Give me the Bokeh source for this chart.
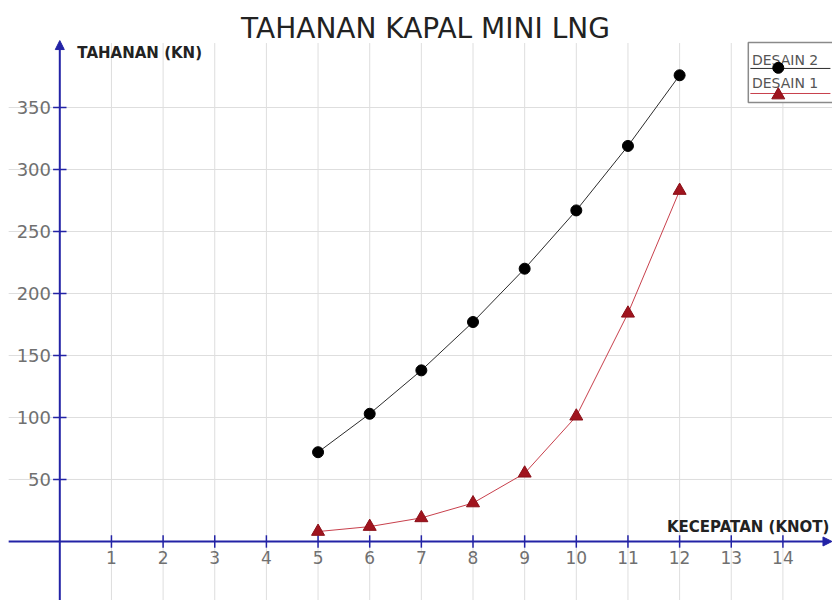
from bokeh.plotting import figure
from bokeh.models import Range1d, Arrow, NormalHead, Label
from bokeh.core.properties import value
from bokeh.embed import file_html
from bokeh.resources import INLINE

# ---- data ----
speed = [5, 6, 7, 8, 9, 10, 11, 12]
desain2 = [72, 103, 138, 177, 220, 267, 319, 376]
desain1 = [8, 12, 19, 31, 55, 101, 184, 283]
x_ticks = [1, 2, 3, 4, 5, 6, 7, 8, 9, 10, 11, 12, 13, 14]
x_tick_labels = [str(t) for t in x_ticks]
y_ticks = [50, 100, 150, 200, 250, 300, 350]
y_tick_labels = [str(t) for t in y_ticks]
title_text = "TAHANAN KAPAL MINI LNG"
x_label = "KECEPATAN (KNOT)"
y_label = "TAHANAN (KN)"
series_names = ["DESAIN 2", "DESAIN 1"]

# ---- styles ----
AXIS = "#2323a6"
GRID = "#dedede"
TICKLAB = "#707070"
FONT = "DejaVu Sans"

XMIN, XMAX = -1.148, 14.96
YMIN, YMAX = -47.6, 436.3

p = figure(width=832, height=600, output_backend="svg", toolbar_location=None,
           x_range=Range1d(XMIN, XMAX), y_range=Range1d(YMIN, YMAX),
           x_axis_location=None, y_axis_location=None,
           min_border=0, min_border_left=0, min_border_right=0,
           min_border_top=0, min_border_bottom=0, outline_line_color=None)
p.grid.visible = False
p.background_fill_color = "white"

# grid
p.segment(x0=x_ticks, y0=[YMIN] * len(x_ticks), x1=x_ticks, y1=[402] * len(x_ticks),
          line_color=GRID, line_width=1)
p.segment(x0=[-0.99] * len(y_ticks), y0=y_ticks, x1=[XMAX] * len(y_ticks), y1=y_ticks,
          line_color=GRID, line_width=1)

# axes with arrows
p.add_layout(Arrow(end=NormalHead(size=9, fill_color=AXIS, line_color=AXIS),
                   x_start=-0.99, y_start=0, x_end=14.95, y_end=0,
                   line_color=AXIS, line_width=2))
p.add_layout(Arrow(end=NormalHead(size=9, fill_color=AXIS, line_color=AXIS),
                   x_start=0, y_start=YMIN, x_end=0, y_end=404,
                   line_color=AXIS, line_width=2))

# tick marks (crosses)
p.segment(x0=x_ticks, y0=[-5] * len(x_ticks), x1=x_ticks, y1=[5] * len(x_ticks),
          line_color=AXIS, line_width=1.5)
p.segment(x0=[-0.13] * len(y_ticks), y0=y_ticks, x1=[0.13] * len(y_ticks), y1=y_ticks,
          line_color=AXIS, line_width=1.5)

# tick labels
p.text(x=x_ticks, y=[-13] * len(x_ticks), text=x_tick_labels,
       text_font=value(FONT), text_font_size="17px", text_color=TICKLAB,
       text_align="center", text_baseline="middle")
p.text(x=[-0.17] * len(y_ticks), y=y_ticks, text=y_tick_labels,
       text_font=value(FONT), text_font_size="18px", text_color=TICKLAB,
       text_align="right", text_baseline="middle")

# series
p.line(speed, desain2, line_color="#2b2b2b", line_width=1)
p.scatter(speed, desain2, marker="circle", size=11, fill_color="black", line_color="black")
p.line(speed, desain1, line_color="#c8404c", line_width=1)
p.scatter(speed, desain1, marker="triangle", size=13, fill_color="#a0141e",
          line_color="#8a1018")

# titles
p.add_layout(Label(x=7.08, y=413.5, text=title_text, text_font=FONT,
                   text_font_size="28px", text_color="#222222",
                   text_align="center", text_baseline="middle"))
p.add_layout(Label(x=0.34, y=394, text=y_label, text_font=FONT,
                   text_font_size="15px", text_font_style="bold", text_color="#222222",
                   text_align="left", text_baseline="middle"))
p.add_layout(Label(x=14.9, y=11.5, text=x_label, text_font=FONT,
                   text_font_size="15px", text_font_style="bold", text_color="#222222",
                   text_align="right", text_baseline="middle"))

# legend (manual, text above sample)
p.quad(left=[13.33], right=[14.99], bottom=[354], top=[402.4],
       fill_color="white", line_color="#8a8a8a", line_width=1.5)
p.text(x=[13.40, 13.40], y=[388.5, 369.5], text=series_names,
       text_font=value(FONT), text_font_size="14px", text_color="#555555",
       text_align="left", text_baseline="middle")
p.segment(x0=[13.37], y0=[381.5], x1=[14.92], y1=[381.5], line_color="#2b2b2b", line_width=1)
p.segment(x0=[13.37], y0=[361.3], x1=[14.92], y1=[361.3], line_color="#c8404c", line_width=1)
p.scatter([13.91], [382], marker="circle", size=11, fill_color="black", line_color="black")
p.scatter([13.91], [360], marker="triangle", size=13, fill_color="#a0141e", line_color="#8a1018")

open("out.html", "w").write(file_html(p, INLINE))
